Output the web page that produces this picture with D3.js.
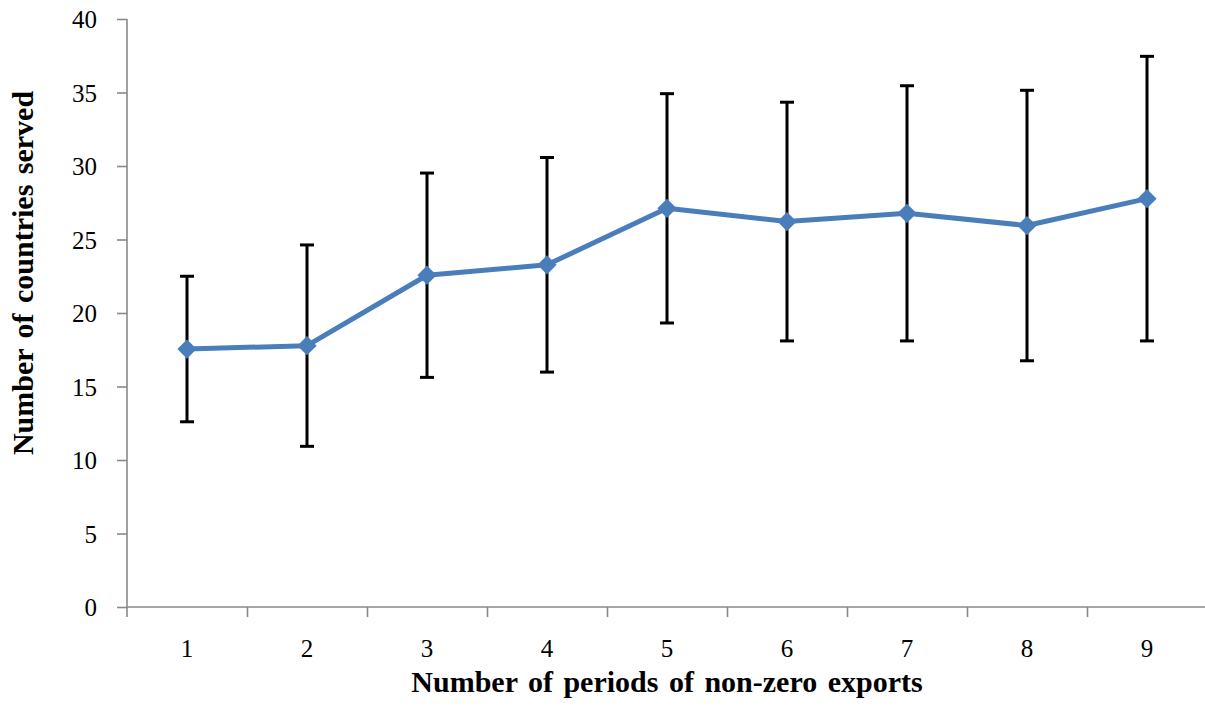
<!DOCTYPE html>
<html>
<head>
<meta charset="utf-8">
<script src="https://cdn.jsdelivr.net/npm/d3@7"></script>
<style>
  html, body { margin: 0; padding: 0; background: #fff; }
  svg { display: block; }
  text { font-family: "Liberation Serif", "Times New Roman", serif; fill: #000; }
</style>
</head>
<body>
<svg id="chart" width="1205" height="711"></svg>
<script>
const categories = ["1", "2", "3", "4", "5", "6", "7", "8", "9"];
const means = [17.55, 17.78, 22.57, 23.28, 27.12, 26.22, 26.78, 25.95, 27.78];
const errors = [4.95, 6.85, 6.95, 7.3, 7.8, 8.12, 8.68, 9.2, 9.68];
const yTicks = [0, 5, 10, 15, 20, 25, 30, 35, 40];
const xTitle = "Number of periods of non-zero exports";
const yTitle = "Number of countries served";

(function () {
const svg = d3.select("#chart");
const pLeft = 127, pRight = 1207, pTop = 19, pBottom = 607;
const axisColor = "#898989";

const x = d3.scaleBand().domain(categories).range([pLeft, pRight]).padding(0);
const y = d3.scaleLinear().domain([0, 40]).range([pBottom, pTop]);
const xb = d3.scaleLinear().domain([0, categories.length]).range([pLeft, pRight]);

// Y axis
const gy = svg.append("g").attr("transform", `translate(${pLeft},0)`)
  .call(d3.axisLeft(y).tickValues(yTicks).tickSize(10).tickPadding(20).tickSizeOuter(0));
gy.select(".domain").remove();
gy.selectAll(".tick line").attr("stroke", axisColor).attr("stroke-width", 1.6);
gy.selectAll(".tick text").attr("font-size", 25).attr("dy", "0.34em")
  .attr("font-family", "Liberation Serif").attr("fill", "#000");
svg.append("line").attr("x1", pLeft).attr("x2", pLeft).attr("y1", pTop).attr("y2", pBottom + 10)
  .attr("stroke", axisColor).attr("stroke-width", 1.6);

// X axis (ticks at band boundaries)
const gx = svg.append("g").attr("transform", `translate(0,${pBottom})`)
  .call(d3.axisBottom(xb).tickValues(d3.range(1, categories.length)).tickSize(10).tickFormat(""));
gx.select(".domain").remove();
gx.selectAll(".tick line").attr("stroke", axisColor).attr("stroke-width", 1.6);
svg.append("line").attr("x1", pLeft).attr("x2", 1205).attr("y1", pBottom).attr("y2", pBottom)
  .attr("stroke", axisColor).attr("stroke-width", 1.6);

// X labels at band centers
svg.append("g").selectAll("text").data(categories).join("text")
  .attr("x", d => x(d) + x.bandwidth() / 2)
  .attr("y", 657)
  .attr("text-anchor", "middle")
  .attr("font-size", 25)
  .text(d => d);

// Titles
svg.append("text").attr("x", 667).attr("y", 692).attr("text-anchor", "middle")
  .attr("font-size", 30).attr("font-weight", "bold").attr("word-spacing", 3).text(xTitle);
svg.append("text").attr("transform", "translate(33,273) rotate(-90)").attr("text-anchor", "middle")
  .attr("font-size", 30).attr("font-weight", "bold").attr("word-spacing", 3).text(yTitle);

const data = categories.map((c, i) => ({ c, m: means[i], e: errors[i] }));
const cx = d => x(d.c) + x.bandwidth() / 2;

// Error bars
const eb = svg.append("g").attr("stroke", "#000").attr("stroke-width", 3);
eb.selectAll(".v").data(data).join("line").attr("class", "v")
  .attr("x1", cx).attr("x2", cx)
  .attr("y1", d => y(d.m + d.e)).attr("y2", d => y(d.m - d.e));
eb.selectAll(".t").data(data).join("line").attr("class", "t")
  .attr("x1", d => cx(d) - 7).attr("x2", d => cx(d) + 7)
  .attr("y1", d => y(d.m + d.e)).attr("y2", d => y(d.m + d.e));
eb.selectAll(".b").data(data).join("line").attr("class", "b")
  .attr("x1", d => cx(d) - 7).attr("x2", d => cx(d) + 7)
  .attr("y1", d => y(d.m - d.e)).attr("y2", d => y(d.m - d.e));

// Line
svg.append("path").datum(data)
  .attr("fill", "none").attr("stroke", "#4a7ebb").attr("stroke-width", 5)
  .attr("stroke-linejoin", "round")
  .attr("d", d3.line().x(cx).y(d => y(d.m)));

// Markers
svg.append("g").selectAll("path").data(data).join("path")
  .attr("d", d3.symbol().type(d3.symbolSquare).size(185))
  .attr("transform", d => `translate(${cx(d)},${y(d.m)}) rotate(45)`)
  .attr("fill", "#4a7ebb");
})();
</script>
</body>
</html>
